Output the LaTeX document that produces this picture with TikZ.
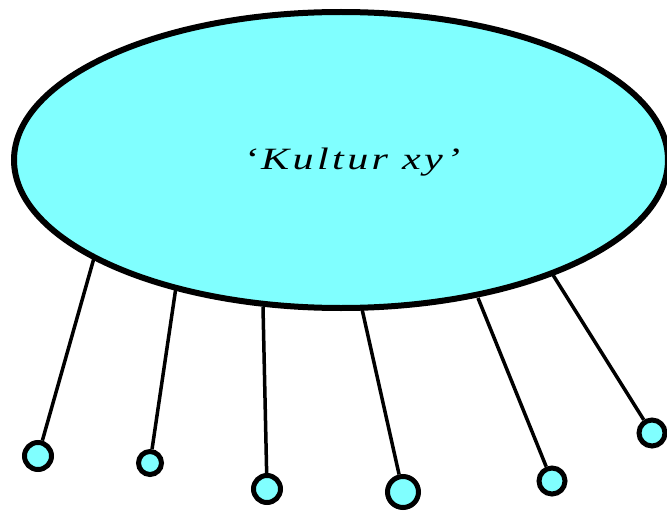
\documentclass[tikz,border=0pt]{standalone}
\usepackage{fontspec}
\newfontfamily\kfont[LetterSpace=8]{Liberation Serif}
\definecolor{cyanfill}{HTML}{80FFFF}
\tikzset{
  blob/.style={draw=black, line width=6pt, fill=cyanfill},
  knob/.style={circle, draw=black, line width=5pt, fill=cyanfill, inner sep=0pt},
  link/.style={draw=black, line width=3.5pt},
  label/.style={font=\kfont\itshape\fontsize{31}{37}\selectfont, inner sep=0pt, xscale=1.36}
}
\begin{document}
\begin{tikzpicture}[x=1pt,y=-1pt]
\useasboundingbox (0,0) rectangle (667,511);
\begin{scope}
\clip (0,0) rectangle (667,511);
\draw[blob] (341,160) ellipse [x radius=327, y radius=148];
\end{scope}
\node[label] (title) at (352,162) {‘Kultur xy’};
% attachment points on the ellipse
\coordinate (a1) at (94,258);
\coordinate (a2) at (176,287);
\coordinate (a3) at (263,307);
\coordinate (a4) at (362,309);
\coordinate (a5) at (478,298);
\coordinate (a6) at (553,275);
% knobs
\node[knob, minimum size=27pt] (k1) at (38,456) {};
\node[knob, minimum size=23pt] (k2) at (150,463) {};
\node[knob, minimum size=27pt] (k3) at (267,489) {};
\node[knob, minimum size=31pt] (k4) at (403,492) {};
\node[knob, minimum size=26pt] (k5) at (552,481) {};
\node[knob, minimum size=26pt] (k6) at (652,433) {};
\foreach \i in {1,...,6} {\draw[link] (a\i) -- (k\i);}
\end{tikzpicture}
\end{document}
